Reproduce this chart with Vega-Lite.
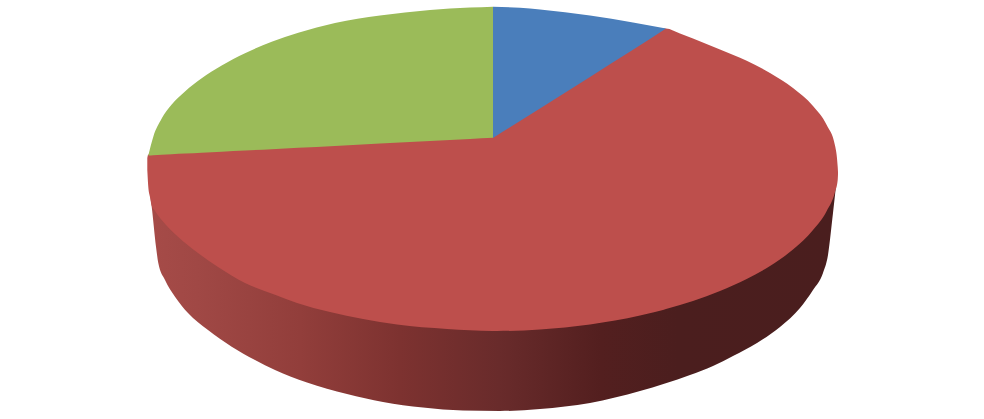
{
  "$schema": "https://vega.github.io/schema/vega-lite/v6.json",
  "width": 984,
  "height": 419,
  "padding": 0,
  "autosize": {"type": "none"},
  "background": "white",
  "config": {"view": {"stroke": null}},
  "datasets": {
    "side": [
      {"x": 149, "y": 185, "y2": 187},
      {"x": 151.7, "y": 185, "y2": 206.7},
      {"x": 156, "y": 185, "y2": 246.7},
      {"x": 158.3, "y": 185, "y2": 263},
      {"x": 165, "y": 185, "y2": 280},
      {"x": 175, "y": 185, "y2": 296.7},
      {"x": 188, "y": 185, "y2": 313},
      {"x": 208, "y": 185, "y2": 330},
      {"x": 231.7, "y": 185, "y2": 346.7},
      {"x": 255, "y": 185, "y2": 360},
      {"x": 275, "y": 185, "y2": 370},
      {"x": 307, "y": 185, "y2": 382.5},
      {"x": 347, "y": 185, "y2": 394},
      {"x": 383, "y": 185, "y2": 402},
      {"x": 423, "y": 185, "y2": 407.5},
      {"x": 463, "y": 185, "y2": 410.5},
      {"x": 500, "y": 185, "y2": 411},
      {"x": 540, "y": 185, "y2": 409},
      {"x": 590, "y": 185, "y2": 403},
      {"x": 640, "y": 185, "y2": 391},
      {"x": 690, "y": 185, "y2": 375},
      {"x": 713, "y": 185, "y2": 366},
      {"x": 733, "y": 185, "y2": 356},
      {"x": 757, "y": 185, "y2": 343},
      {"x": 780, "y": 185, "y2": 327},
      {"x": 800, "y": 185, "y2": 308},
      {"x": 813, "y": 185, "y2": 290},
      {"x": 823, "y": 185, "y2": 273},
      {"x": 828, "y": 185, "y2": 255},
      {"x": 833, "y": 185, "y2": 213},
      {"x": 836, "y": 185, "y2": 186}
    ],
    "red": [
      {"x": 147.3, "y": 158, "y2": 170},
      {"x": 148.3, "y": 154.5, "y2": 187},
      {"x": 150, "y": 154.5, "y2": 197},
      {"x": 151.5, "y": 154, "y2": 205},
      {"x": 155, "y": 154, "y2": 211},
      {"x": 161.7, "y": 153.5, "y2": 220},
      {"x": 178, "y": 152.5, "y2": 236.7},
      {"x": 198, "y": 151.5, "y2": 253},
      {"x": 218, "y": 150.5, "y2": 267},
      {"x": 245, "y": 149, "y2": 283},
      {"x": 275, "y": 147.5, "y2": 294.7},
      {"x": 297, "y": 146.5, "y2": 303},
      {"x": 330, "y": 144.5, "y2": 312},
      {"x": 363, "y": 143, "y2": 319},
      {"x": 397, "y": 141, "y2": 324.6},
      {"x": 447, "y": 138.5, "y2": 329},
      {"x": 493, "y": 136, "y2": 331},
      {"x": 497, "y": 132, "y2": 331},
      {"x": 540, "y": 106, "y2": 329.5},
      {"x": 590, "y": 75, "y2": 324.5},
      {"x": 640, "y": 44, "y2": 315.6},
      {"x": 655, "y": 33, "y2": 312},
      {"x": 663, "y": 28.8, "y2": 310},
      {"x": 666, "y": 28.4, "y2": 309},
      {"x": 680, "y": 33.5, "y2": 305},
      {"x": 693, "y": 38.5, "y2": 301},
      {"x": 720, "y": 49.5, "y2": 291},
      {"x": 746.7, "y": 60.8, "y2": 279},
      {"x": 770, "y": 73, "y2": 266},
      {"x": 793, "y": 88, "y2": 249.5},
      {"x": 813, "y": 106, "y2": 230},
      {"x": 826.7, "y": 125, "y2": 211},
      {"x": 835, "y": 145.5, "y2": 192},
      {"x": 837.7, "y": 166.7, "y2": 180},
      {"x": 838, "y": 172, "y2": 174}
    ],
    "green": [
      {"x": 148.3, "y": 155.5, "y2": 155.5},
      {"x": 153.3, "y": 136.7, "y2": 155.2},
      {"x": 161.7, "y": 118.5, "y2": 154.8},
      {"x": 171.7, "y": 104.5, "y2": 154.3},
      {"x": 185, "y": 91.5, "y2": 153.6},
      {"x": 201.7, "y": 78.3, "y2": 152.8},
      {"x": 221.7, "y": 65.5, "y2": 151.7},
      {"x": 245, "y": 53.3, "y2": 150.5},
      {"x": 271.7, "y": 41.7, "y2": 149.2},
      {"x": 298.3, "y": 32.7, "y2": 147.8},
      {"x": 335, "y": 23, "y2": 145.9},
      {"x": 380, "y": 15.5, "y2": 143.6},
      {"x": 430, "y": 10, "y2": 141},
      {"x": 470, "y": 7.6, "y2": 139},
      {"x": 493, "y": 6.7, "y2": 137.8}
    ],
    "blue": [
      {"x": 493, "y": 6.7, "y2": 138},
      {"x": 520, "y": 7.8, "y2": 121},
      {"x": 540, "y": 9.5, "y2": 108.4},
      {"x": 590, "y": 15.5, "y2": 76.9},
      {"x": 633, "y": 22.5, "y2": 49.8},
      {"x": 666, "y": 28.5, "y2": 28.5}
    ]
  },
  "encoding": {
    "x": {"field": "x", "type": "quantitative", "axis": null, "scale": {"domain": [0, 984]}},
    "y": {"field": "y", "type": "quantitative", "axis": null, "scale": {"domain": [419, 0]}},
    "y2": {"field": "y2"}
  },
  "layer": [
    {
      "data": {"name": "side"},
      "mark": {
        "type": "area",
        "interpolate": "monotone",
        "color": {
          "gradient": "linear",
          "x1": 0,
          "x2": 1,
          "y1": 0,
          "y2": 0,
          "stops": [
            {"offset": 0, "color": "#a64b48"},
            {"offset": 0.07, "color": "#a04845"},
            {"offset": 0.22, "color": "#923e3b"},
            {"offset": 0.365, "color": "#7d3230"},
            {"offset": 0.51, "color": "#692b2b"},
            {"offset": 0.657, "color": "#531f1f"},
            {"offset": 0.77, "color": "#4b1e1e"},
            {"offset": 1, "color": "#4a1e1e"}
          ]
        }
      }
    },
    {
      "data": {"name": "red"},
      "mark": {"type": "area", "interpolate": "monotone", "color": "#bd4f4c"}
    },
    {
      "data": {"name": "green"},
      "mark": {"type": "area", "interpolate": "monotone", "color": "#9bbb59"}
    },
    {
      "data": {"name": "blue"},
      "mark": {"type": "area", "interpolate": "monotone", "color": "#4a7ebb"}
    }
  ]
}
